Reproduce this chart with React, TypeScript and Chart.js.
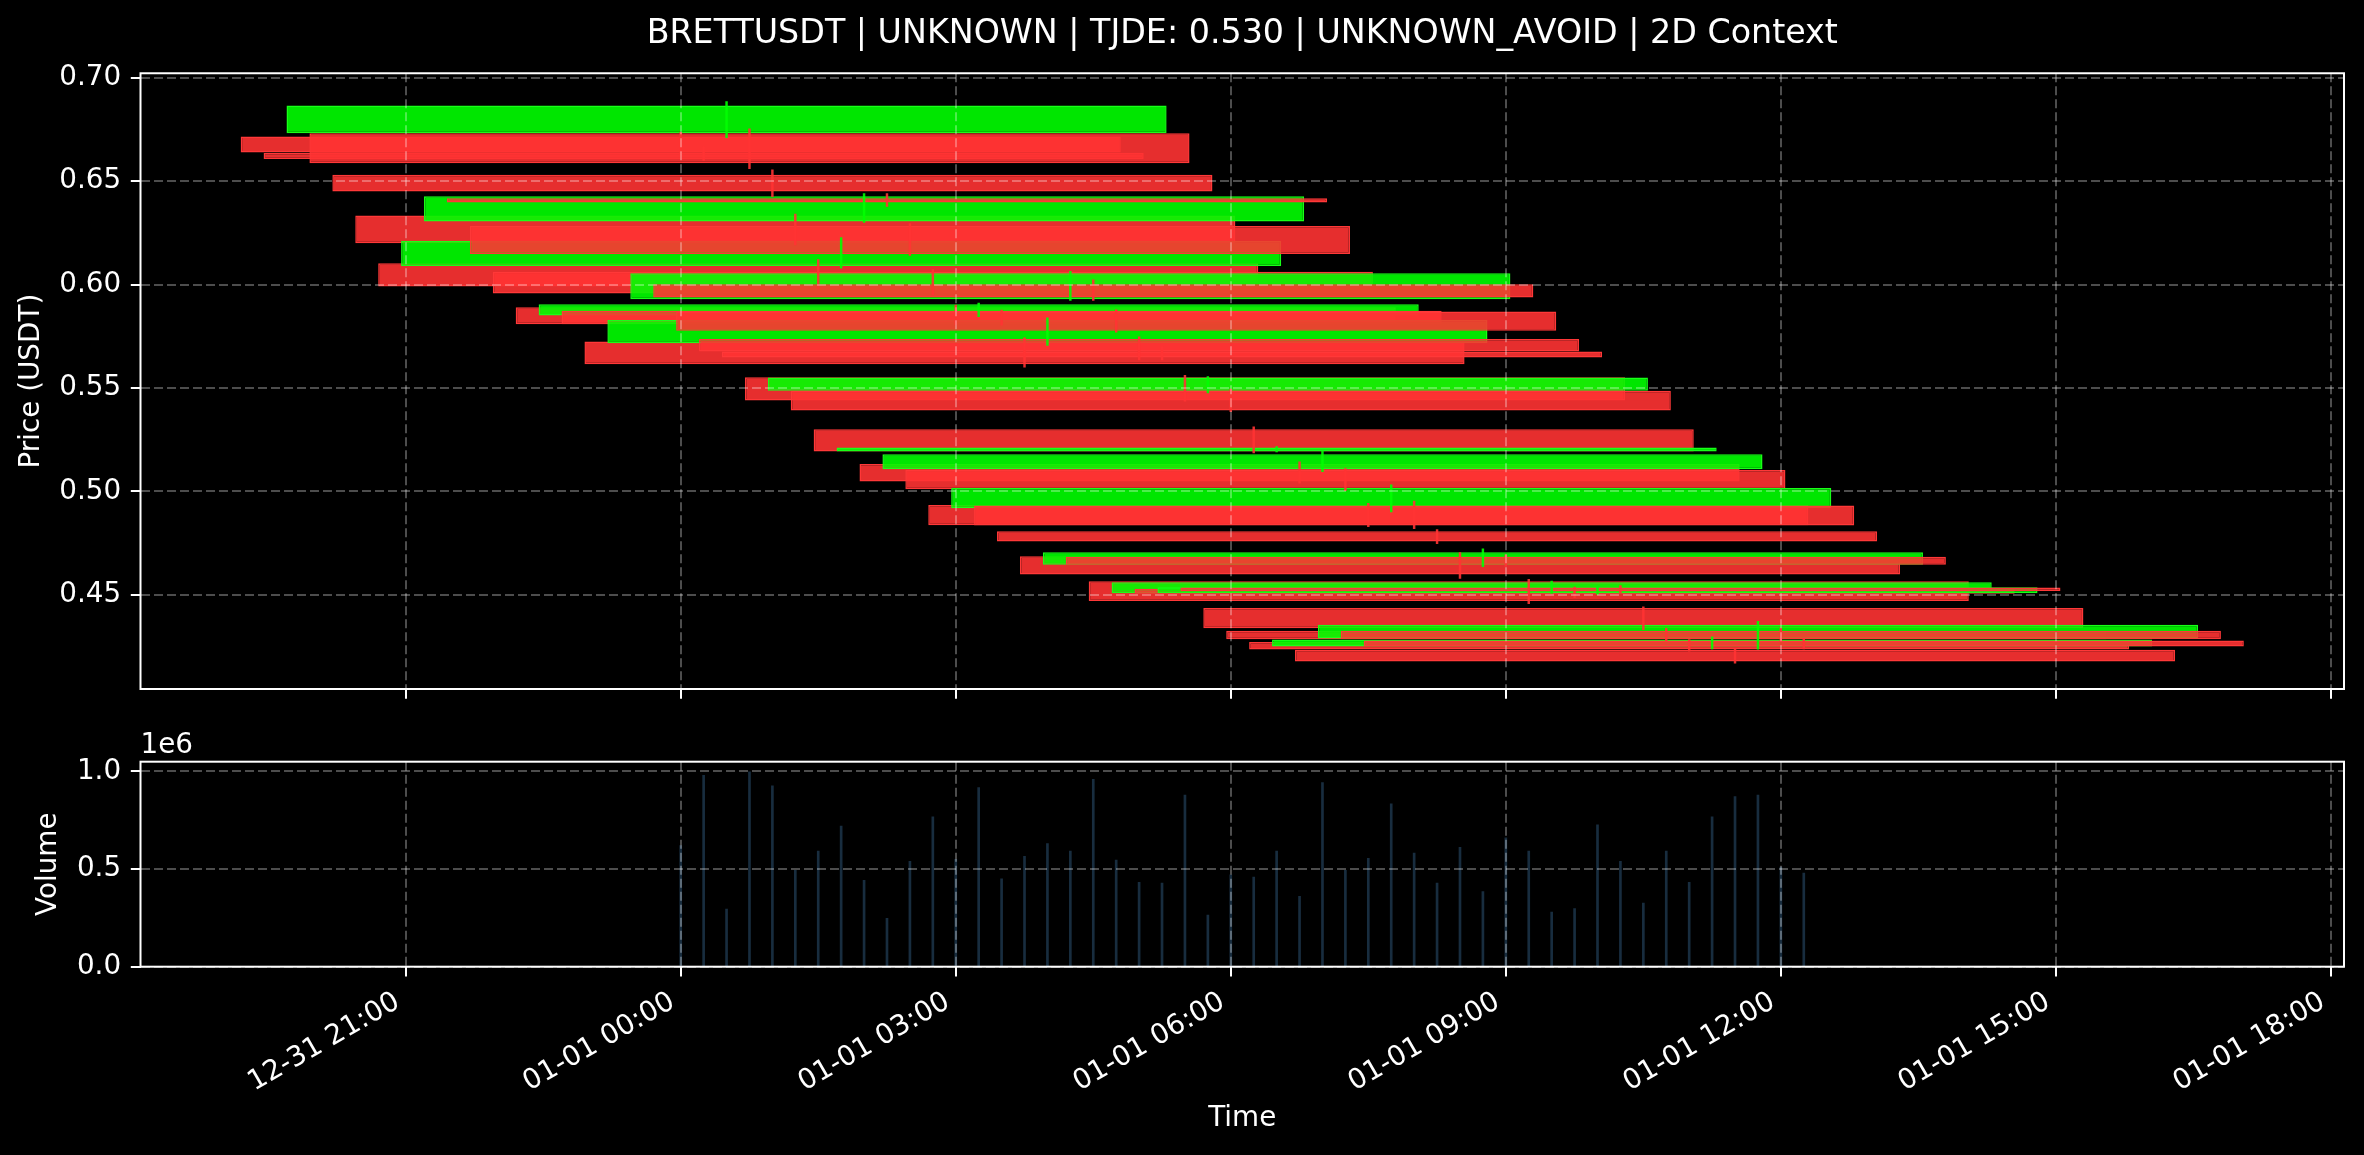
import React, { useEffect, useRef } from 'react';
import { Chart, registerables } from 'chart.js';

Chart.register(...registerables);

// ---------- data ----------
const candleTimes = [
  '00:00', '00:15', '00:30', '00:45', '01:00', '01:15', '01:30', '01:45', '02:00', '02:15',
  '02:30', '02:45', '03:00', '03:15', '03:30', '03:45', '04:00', '04:15', '04:30', '04:45',
  '05:00', '05:15', '05:30', '05:45', '06:00', '06:15', '06:30', '06:45', '07:00', '07:15',
  '07:30', '07:45', '08:00', '08:15', '08:30', '08:45', '09:00', '09:15', '09:30', '09:45',
  '10:00', '10:15', '10:30', '10:45', '11:00', '11:15', '11:30', '11:45', '12:00', '12:15',
];
const opens = [
  0.6715, 0.6635, 0.6731, 0.6731, 0.6530, 0.6333, 0.6103, 0.6090, 0.6304, 0.6417,
  0.6283, 0.6062, 0.5890, 0.5850, 0.5873, 0.5724, 0.5716, 0.5929, 0.6001, 0.5869,
  0.5737, 0.5676, 0.5552, 0.5487, 0.5487, 0.5301, 0.5193, 0.5132, 0.5107, 0.5104,
  0.4934, 0.4919, 0.4932, 0.4808, 0.4687, 0.4646, 0.4684, 0.4566, 0.4508, 0.4529,
  0.4508, 0.4535, 0.4436, 0.4326, 0.4272, 0.4250, 0.4235, 0.4289, 0.4326, 0.4280,
];
const closes = [
  0.6638, 0.6606, 0.6865, 0.6586, 0.6449, 0.6200, 0.5990, 0.6211, 0.6427, 0.6396,
  0.6148, 0.5956, 0.5808, 0.5905, 0.5808, 0.5615, 0.5828, 0.6055, 0.5937, 0.5776,
  0.5676, 0.5647, 0.5439, 0.5550, 0.5391, 0.5193, 0.5212, 0.5048, 0.5180, 0.5011,
  0.4837, 0.5016, 0.4835, 0.4758, 0.4598, 0.4706, 0.4645, 0.4470, 0.4561, 0.4505,
  0.4537, 0.4519, 0.4339, 0.4285, 0.4236, 0.4284, 0.4178, 0.4356, 0.4286, 0.4250,
];
const highs = [
  0.6735, 0.6667, 0.6884, 0.6752, 0.6554, 0.6340, 0.6120, 0.6227, 0.6439, 0.6439,
  0.6294, 0.6072, 0.5901, 0.5910, 0.5877, 0.5742, 0.5839, 0.6064, 0.6023, 0.5878,
  0.5747, 0.5700, 0.5561, 0.5555, 0.5495, 0.5312, 0.5217, 0.5143, 0.5196, 0.5110,
  0.4942, 0.5032, 0.4953, 0.4815, 0.4704, 0.4723, 0.4693, 0.4575, 0.4566, 0.4537,
  0.4540, 0.4545, 0.4442, 0.4338, 0.4284, 0.4297, 0.4240, 0.4372, 0.4340, 0.4291,
];
const lows = [
  0.6625, 0.6600, 0.6710, 0.6560, 0.6425, 0.6191, 0.5981, 0.6079, 0.6300, 0.6377,
  0.6140, 0.5950, 0.5805, 0.5845, 0.5803, 0.5600, 0.5705, 0.5923, 0.5923, 0.5770,
  0.5636, 0.5636, 0.5436, 0.5476, 0.5385, 0.5186, 0.5191, 0.5040, 0.5095, 0.5003,
  0.4829, 0.4901, 0.4820, 0.4747, 0.4579, 0.4636, 0.4637, 0.4457, 0.4507, 0.4487,
  0.4502, 0.4510, 0.4332, 0.4279, 0.4228, 0.4239, 0.4170, 0.4238, 0.4275, 0.4239,
];
const volumes = [
  620000, 979000, 295000, 997000, 925000, 493000, 591000, 719000, 442000, 248000,
  539000, 767000, 550000, 916000, 449000, 565000, 630000, 591000, 959000, 545000,
  432000, 428000, 878000, 264000, 470000, 459000, 591000, 360000, 942000, 493000,
  555000, 834000, 582000, 428000, 611000, 385000, 660000, 591000, 279000, 298000,
  726000, 539000, 325000, 591000, 432000, 767000, 870000, 878000, 510000, 479000,
];
const xTickValues = [-3, 0, 3, 6, 9, 12, 15, 18];
const xTickLabels = [
  '12-31 21:00', '01-01 00:00', '01-01 03:00', '01-01 06:00',
  '01-01 09:00', '01-01 12:00', '01-01 15:00', '01-01 18:00',
];
const priceTicks = [0.45, 0.5, 0.55, 0.6, 0.65, 0.7];
const volumeTicks = [0, 500000, 1000000];

const TITLE = 'BRETTUSDT | UNKNOWN | TJDE: 0.530 | UNKNOWN_AVOID | 2D Context';

// ---------- layout / style ----------
const FONT = "'DejaVu Sans', 'Noto Sans', sans-serif";
const W = 2364;
const TOP_H = 700;
const BOT_H = 455;
const AXIS_W = 140.5;
const X_MIN = -5.8925;
const X_MAX = 18.1425;
const SPACING_H = 0.25; // hours between candles
const BODY_W_H = 9.6; // body width in hours
const GRID = 'rgba(255,255,255,0.3)';
const RED = 'rgba(255,51,51,0.9)';
const GREEN = 'rgba(0,255,0,0.9)';
const RED_EDGE = 'rgba(255,56,56,1)';
const GREEN_EDGE = 'rgba(24,255,24,1)';
const VOL = 'rgba(70,130,180,0.35)';

const toHours = (s: string) => {
  const [h, m] = s.split(':').map(Number);
  return h + m / 60;
};

const frame = {
  id: 'frame',
  afterDraw(chart: any) {
    const { ctx, chartArea: a } = chart;
    ctx.save();
    ctx.strokeStyle = '#ffffff';
    ctx.lineWidth = 2;
    ctx.strokeRect(a.left, a.top, a.right - a.left, a.bottom - a.top);
    ctx.restore();
  },
};

const offsetText = {
  id: 'offsetText',
  afterDraw(chart: any) {
    const { ctx, chartArea: a } = chart;
    ctx.save();
    ctx.fillStyle = '#ffffff';
    ctx.font = `27.8px ${FONT}`;
    ctx.textAlign = 'left';
    ctx.textBaseline = 'alphabetic';
    ctx.fillText('1e6', a.left, a.top - 8.5);
    ctx.restore();
  },
};

const tickFont = { family: FONT, size: 27.8 };

const zeroPadding = (s: any) => {
  s.paddingTop = 0;
  s.paddingBottom = 0;
  s.paddingLeft = 0;
  s.paddingRight = 0;
};

function xScale(withLabels: boolean): any {
  return {
    type: 'linear',
    min: X_MIN,
    max: X_MAX,
    offset: false,
    afterBuildTicks: (s: any) => {
      s.ticks = xTickValues.map((v) => ({ value: v }));
    },
    afterFit: (s: any) => {
      s.height = withLabels ? 188.3 : 11;
      zeroPadding(s);
    },
    ticks: {
      display: withLabels,
      autoSkip: false,
      minRotation: 30,
      maxRotation: 30,
      padding: 9,
      labelOffset: -8,
      color: '#ffffff',
      font: tickFont,
      callback: (v: number) => xTickLabels[xTickValues.indexOf(v)] ?? '',
    },
    grid: {
      color: GRID,
      lineWidth: 2,
      offset: false,
      z: 1,
      drawTicks: true,
      tickLength: 9.7,
      tickColor: '#ffffff',
      tickWidth: 2,
    },
    border: { display: false, color: '#ffffff', width: 2, dash: [9, 4] },
    title: withLabels
      ? {
          display: true,
          text: 'Time',
          color: '#ffffff',
          font: tickFont,
          padding: { top: 0, bottom: 19.5 },
        }
      : { display: false },
  };
}

function yScale(min: number, max: number, ticks: number[], fmt: (v: number) => string, title: string, titlePad: number): any {
  return {
    type: 'linear',
    position: 'left',
    min,
    max,
    beginAtZero: false,
    afterBuildTicks: (s: any) => {
      s.ticks = ticks.map((v) => ({ value: v }));
    },
    afterFit: (s: any) => {
      s.width = AXIS_W;
      zeroPadding(s);
    },
    ticks: { color: '#ffffff', font: tickFont, padding: 9.7, callback: (v: number) => fmt(v) },
    grid: {
      color: GRID,
      lineWidth: 2,
      z: 1,
      drawTicks: true,
      tickLength: 9.7,
      tickColor: '#ffffff',
      tickWidth: 2,
    },
    border: { display: false, color: '#ffffff', width: 2, dash: [9, 4] },
    title: {
      display: true,
      text: title,
      color: '#ffffff',
      font: tickFont,
      padding: { top: titlePad, bottom: 0 },
    },
  };
}

export default function App() {
  const topRef = useRef<HTMLCanvasElement>(null);
  const botRef = useRef<HTMLCanvasElement>(null);

  useEffect(() => {
    document.body.style.margin = '0';
    document.body.style.background = '#000';
    const xs = candleTimes.map(toHours);
    const up = opens.map((o, i) => closes[i] >= o);

    const top = new Chart(topRef.current as HTMLCanvasElement, {
      type: 'bar',
      data: {
        datasets: [
          {
            label: 'wicks',
            data: xs.map((x, i) => ({ x, y: [lows[i], highs[i]] })) as any,
            backgroundColor: up.map((u) => (u ? GREEN : RED)),
            borderWidth: 0,
            grouped: false,
            categoryPercentage: 1,
            barPercentage: 1,
            maxBarThickness: 1.8,
            order: 0,
          } as any,
          {
            label: 'bodies',
            data: xs.map((x, i) => ({ x, y: [opens[i], closes[i]] })) as any,
            backgroundColor: up.map((u) => (u ? GREEN : RED)),
            borderColor: up.map((u) => (u ? GREEN_EDGE : RED_EDGE)),
            borderWidth: 1.5,
            borderSkipped: false,
            grouped: false,
            categoryPercentage: 1,
            barPercentage: BODY_W_H / SPACING_H,
            order: 1,
          } as any,
        ],
      },
      options: {
        responsive: false,
        animation: false,
        devicePixelRatio: 1,
        layout: { padding: { top: 0, left: 0, right: 20, bottom: 0 } },
        plugins: {
          legend: { display: false },
          tooltip: { enabled: false },
          title: {
            display: true,
            text: TITLE,
            color: '#ffffff',
            fullSize: false,
            font: { family: FONT, size: 33.3, weight: 'normal' },
            padding: { top: 14, bottom: 19.3 },
          } as any,
        },
        scales: {
          x: xScale(false),
          y: yScale(0.4045, 0.7021, priceTicks, (v) => v.toFixed(2), 'Price (USDT)', 14.8),
        },
      } as any,
      plugins: [frame],
    });

    const bottom = new Chart(botRef.current as HTMLCanvasElement, {
      type: 'bar',
      data: {
        datasets: [
          {
            label: 'Volume',
            data: xs.map((x, i) => ({ x, y: volumes[i] })) as any,
            backgroundColor: VOL,
            borderWidth: 0,
            grouped: false,
            categoryPercentage: 1,
            barPercentage: 1,
            maxBarThickness: 2,
          } as any,
        ],
      },
      options: {
        responsive: false,
        animation: false,
        devicePixelRatio: 1,
        layout: { padding: { top: 61.7, left: 0, right: 20, bottom: 0 } },
        plugins: { legend: { display: false }, tooltip: { enabled: false } },
        scales: {
          x: xScale(true),
          y: yScale(0, 1049000, volumeTicks, (v) => (v / 1e6).toFixed(1), 'Volume', 32.3),
        },
      } as any,
      plugins: [frame, offsetText],
    });

    return () => {
      top.destroy();
      bottom.destroy();
    };
  }, []);

  return (
    <div
      style={{
        position: 'fixed',
        left: 0,
        top: 0,
        width: W,
        height: TOP_H + BOT_H,
        background: '#000',
        overflow: 'hidden',
      }}
    >
      <canvas
        ref={topRef}
        width={W}
        height={TOP_H}
        style={{ position: 'absolute', left: 0, top: 0, width: W, height: TOP_H }}
      />
      <canvas
        ref={botRef}
        width={W}
        height={BOT_H}
        style={{ position: 'absolute', left: 0, top: TOP_H, width: W, height: BOT_H }}
      />
    </div>
  );
}
